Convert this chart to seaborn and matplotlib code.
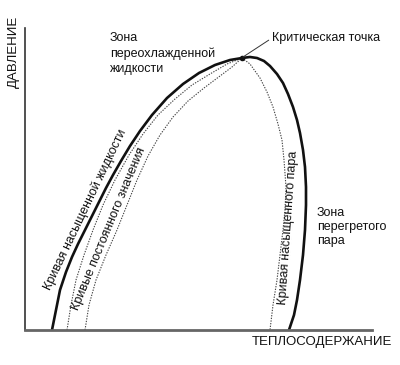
import numpy as np
import pandas as pd
import matplotlib
matplotlib.use("Agg")
import matplotlib.pyplot as plt
import seaborn as sns

# Curves (arbitrary units: enthalpy -> x, pressure -> y)
sat_x = [27, 31, 35, 41, 47, 53, 60, 67, 74, 81, 88, 96, 105, 115, 127, 142, 158, 174, 190, 205, 217,
         225, 232, 239, 245, 252, 258, 263, 268, 272, 275, 278, 280, 281, 281, 280, 278, 275, 272, 269, 264]
sat_y = [0, 20, 40, 58, 73, 86, 100, 114, 128, 142, 155, 169, 184, 199, 215, 232, 246, 257, 265, 270, 272,
         273, 272, 269, 264, 256, 247, 236, 223, 210, 197, 180, 163, 143, 125, 100, 75, 50, 30, 15, 0]

const1_x = [42, 46, 51, 59, 68, 78, 90, 104, 118, 133, 150, 167, 185, 202, 217]
const1_y = [0, 25, 50, 75, 100, 125, 150, 175, 196, 215, 231, 245, 256, 266, 272]

const2_x = [60, 64, 71, 81, 92, 102, 112, 123, 135, 148, 163, 179, 195, 207, 217]
const2_y = [0, 25, 50, 75, 100, 125, 150, 174, 195, 213, 229, 242, 254, 263, 272]

vap_x = [217, 225, 235, 242, 248, 253, 257, 259, 261, 260, 258, 255, 252, 248, 245]
vap_y = [272, 266, 252, 238, 223, 206, 190, 170, 143, 120, 100, 75, 50, 25, 0]

crit_x, crit_y = 217, 272

sns.set_style("white")
plt.rcParams["font.family"] = ["Liberation Sans", "DejaVu Sans"]

fig = plt.figure(figsize=(4.0, 3.65), dpi=100)
ax = fig.add_axes([25 / 400, 35 / 365, 347 / 400, 302 / 365])

dot = (0, (1.2, 1.2))
sns.lineplot(x=const1_x, y=const1_y, sort=False, estimator=None, ax=ax,
             color="#444444", lw=0.8, linestyle=dot)
sns.lineplot(x=const2_x, y=const2_y, sort=False, estimator=None, ax=ax,
             color="#444444", lw=0.8, linestyle=dot)
sns.lineplot(x=vap_x, y=vap_y, sort=False, estimator=None, ax=ax,
             color="#444444", lw=0.8, linestyle=dot)
sns.lineplot(x=sat_x, y=sat_y, sort=False, estimator=None, ax=ax,
             color="#111111", lw=1.9)
ax.plot([crit_x], [crit_y], "o", color="#111111", ms=3)

ax.set_xlim(0, 347)
ax.set_ylim(0, 302)
ax.set_xticks([])
ax.set_yticks([])
for s in ["top", "right"]:
    ax.spines[s].set_visible(False)
ax.spines["left"].set_color("#333333")
ax.spines["left"].set_linewidth(1.2)
ax.spines["bottom"].set_color("#666666")
ax.spines["bottom"].set_linewidth(2.0)

ax.set_ylabel("ДАВЛЕНИЕ", fontsize=9.5, color="#111111", va="center")
ax.yaxis.set_label_coords(-0.032, 0.92)
ax.set_xlabel("ТЕПЛОСОДЕРЖАНИЕ", fontsize=9.5, color="#111111", va="center")
ax.xaxis.set_label_coords(0.855, -0.04)

ax.annotate("Критическая точка", xy=(crit_x + 1, crit_y + 1), xytext=(247, 292),
            fontsize=9, va="center", ha="left", color="#111111",
            arrowprops=dict(arrowstyle="-", color="#333333", lw=0.7,
                            shrinkA=0, shrinkB=0, relpos=(0, 0.5)))
ax.text(85, 298, "Зона\nпереохлажденной\nжидкости", fontsize=9, va="top",
        ha="left", linespacing=1.35, color="#111111")
ax.text(292, 123, "Зона\nперегретого\nпара", fontsize=9, va="top",
        ha="left", linespacing=1.25, color="#111111")

ax.text(60, 120, "Кривая насыщенной жидкости", fontsize=9, rotation=64.5,
        rotation_mode="anchor", ha="center", va="center", color="#111111")
ax.text(84, 101, "Кривые постоянного значения", fontsize=9, rotation=67.5,
        rotation_mode="anchor", ha="center", va="center", color="#111111")
ax.text(263, 102, "Кривая насыщенного пара", fontsize=9, rotation=86,
        rotation_mode="anchor", ha="center", va="center", color="#111111")

fig.savefig("out.png", dpi=100)
